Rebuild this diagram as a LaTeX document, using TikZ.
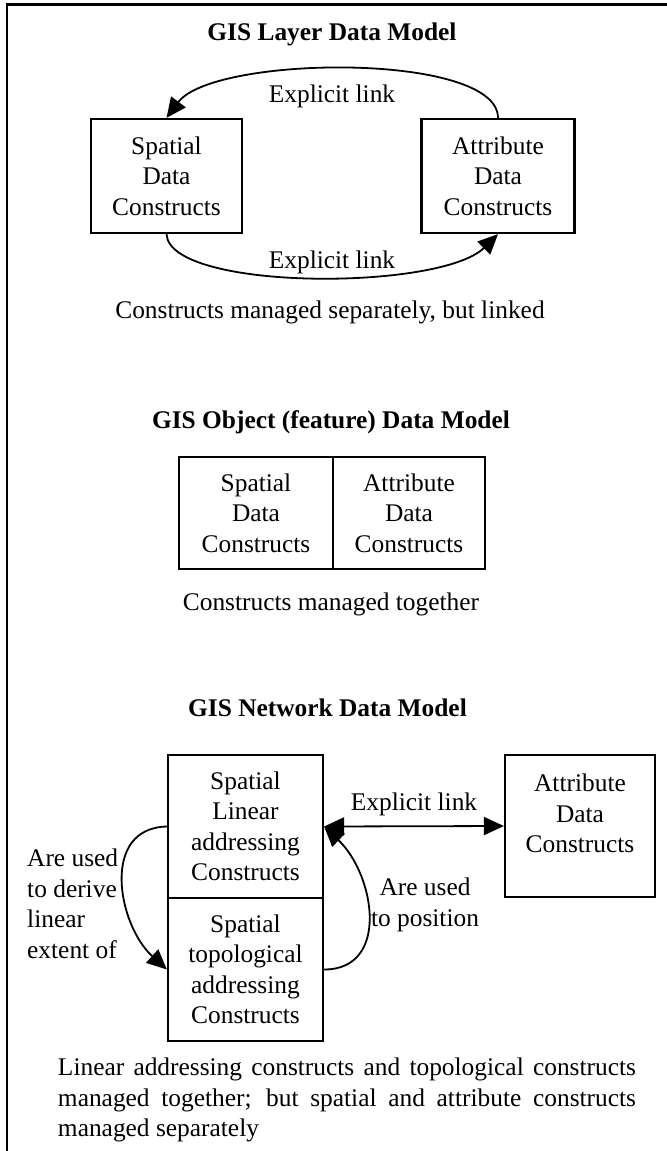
\documentclass[tikz,border=0pt]{standalone}
\usepackage{fontspec}
\setmainfont{Liberation Serif}
\usetikzlibrary{arrows.meta}
\begin{document}
\begin{tikzpicture}[x=1bp,y=-1bp,
  txt/.style={font=\fontsize{25.4bp}{30.5bp}\selectfont, align=center, inner sep=0pt},
  ttl/.style={txt, font=\fontsize{25.4bp}{30.5bp}\selectfont\bfseries},
  box/.style={draw, line width=2.2bp, inner sep=0pt, txt},
  link/.style={line width=1.8bp, -{Triangle[length=20bp,width=18bp]}},
  both/.style={line width=1.8bp, {Triangle[length=20bp,width=18bp]}-{Triangle[length=20bp,width=18bp]}},
  frame/.style={line width=2.5bp}]
\useasboundingbox (0,0) rectangle (667,1151);
% open frame: top and left rules
\draw[frame] (667,4.5) -- (7,4.5) -- (7,1151);

% ---- layer model ----
\node[ttl] (t1) at (332,34.5) {GIS Layer Data Model};
\node[box, minimum width=151bp, minimum height=114bp] (ls) at (166.5,176) {Spatial\\Data\\Constructs};
\node[box, minimum width=153bp, minimum height=114bp] (la) at (498,176) {Attribute\\Data\\Constructs};
\draw[link] (la.north) .. controls +(0,-66) and +(47,-63) .. (ls.north);
\draw[link] (ls.south) .. controls +(3,57) and +(-58,57) .. (la.south);
\node[txt] (l1) at (332,96) {Explicit link};
\node[txt] (l2) at (332,262) {Explicit link};
\node[txt] (c1) at (330,312.5) {Constructs managed separately, but linked};

% ---- object model ----
\node[ttl] (t2) at (331,422.5) {GIS Object (feature) Data Model};
\node[box, minimum width=154bp, minimum height=112bp] (os) at (256,513) {Spatial\\Data\\Constructs};
\node[box, minimum width=152bp, minimum height=112bp] (oa) at (409,513) {Attribute\\Data\\Constructs};
\node[txt] (c2) at (331,604.5) {Constructs managed together};

% ---- network model ----
\node[ttl] (t3) at (327.5,707.5) {GIS Network Data Model};
\node[box, minimum width=155bp, minimum height=143bp] (nl) at (245.5,826.5) {Spatial\\Linear\\addressing\\Constructs};
\node[box, minimum width=155bp, minimum height=143bp] (nt) at (245.5,969.5) {Spatial\\topological\\addressing\\Constructs};
\node[box, minimum width=150bp, minimum height=142bp] (na) at (580,826) {};
\node[txt, anchor=north] (nal) at (580,774) {Attribute\\Data\\Constructs};
\draw[both] (nl.east) -- (na.west);
\node[txt] (l3) at (414,804.5) {Explicit link};
\draw[link] (nt.east) .. controls +(66,0) and +(51,48.5) .. (nl.east);
\draw[link] (nl.west) .. controls +(-67,1.5) and +(-49,-44.5) .. (nt.west);
\node[txt] (rp) at (425,905) {Are used\\to position};
\node[txt, anchor=west, align=left] (rd) at (27,904) {Are used\\to derive\\linear\\extent of};
\node[txt, text width=578bp, align=justify] (c3) at (347,1100) {Linear addressing constructs and topological constructs\linebreak managed together; but spatial and attribute constructs\linebreak managed separately};
\end{tikzpicture}
\end{document}
